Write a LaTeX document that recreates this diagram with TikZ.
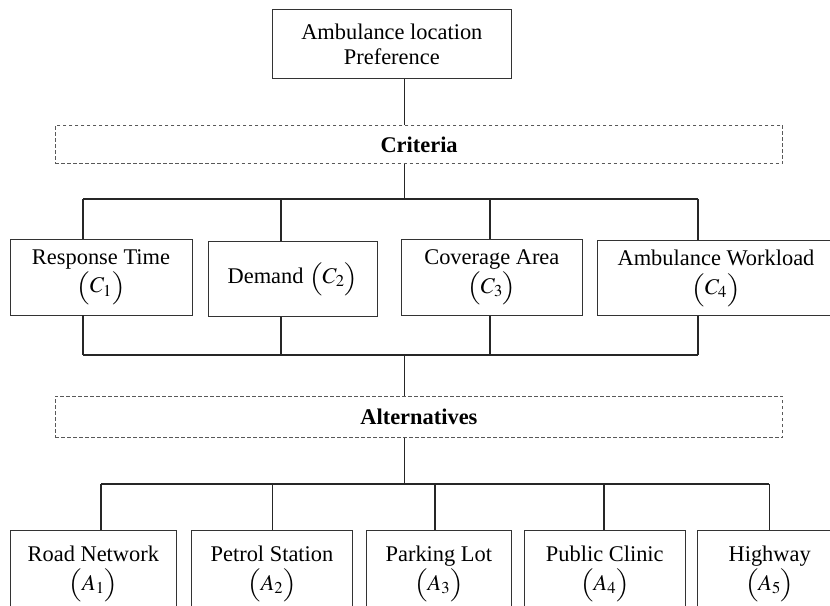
\documentclass[tikz,border=0pt]{standalone}
\usepackage{amsmath}
\usepackage{mathptmx}
\usepackage{graphicx}
\usepackage[no-math]{fontspec}
\setmainfont{Liberation Serif}
\newcommand{\lpar}{\scalebox{1}[0.82]{$\Bigl($}}
\newcommand{\rpar}{\scalebox{1}[0.82]{$\Bigr)$}}
\newcommand{\pp}[1]{\lpar$#1$\rpar}
\begin{document}
\begin{tikzpicture}[x=1bp,y=-1bp,
  every node/.style={font=\fontsize{22.5}{29}\selectfont, inner sep=0pt, align=center},
  solidbox/.style={draw=black!80, line width=0.9bp},
  dashbox/.style={draw=black!65, line width=0.8bp, dash pattern=on 3.5bp off 2.5bp},
  link/.style={draw=black!85, line width=1.1bp}]
\useasboundingbox (0,0) rectangle (830,606);
\clip (0,0) rectangle (830,606);

% goal
\node[solidbox, font=\fontsize{22.5}{25}\selectfont, minimum width=238.3bp, minimum height=69.4bp] (goal) at (391.85,44) {Ambulance location\\Preference};
% criteria header
\node[dashbox, minimum width=727.2bp, minimum height=38.4bp] (crit) at (419.1,144.5) {\textbf{Criteria}};
% criteria
\node[solidbox, minimum width=182bp, minimum height=76bp] (c1) at (101,277) {Response Time\\\pp{C_1}};
\node[solidbox, minimum width=169.7bp, minimum height=75.7bp] (c2) at (292.85,278.85) {Demand \pp{C_2}};
\node[solidbox, minimum width=181.7bp, minimum height=76.7bp] (c3) at (491.85,277.35) {Coverage Area\\\pp{C_3}};
\node[solidbox, minimum width=236.6bp, minimum height=75bp] (c4) at (716,278.2) {Ambulance Workload\\\pp{C_4}};
% alternatives header
\node[dashbox, minimum width=727.7bp, minimum height=41.3bp] (alt) at (418.9,416.65) {\textbf{Alternatives}};
% alternatives
\node[solidbox, minimum width=166.7bp, minimum height=88bp] (a1) at (93.35,574) {Road Network\\\pp{A_1}};
\node[solidbox, minimum width=160.6bp, minimum height=88bp] (a2) at (272,574) {Petrol Station\\\pp{A_2}};
\node[solidbox, minimum width=145.7bp, minimum height=88bp] (a3) at (438.85,574) {Parking Lot\\\pp{A_3}};
\node[solidbox, minimum width=161bp, minimum height=88bp] (a4) at (604.8,574) {Public Clinic\\\pp{A_4}};
\node[solidbox, minimum width=144bp, minimum height=88bp] (a5) at (769.7,574) {Highway\\\pp{A_5}};

% junction coordinates
\coordinate (trunk) at (404.5,0);
\coordinate (k1) at (83,199); \coordinate (k2) at (281,199);
\coordinate (k3) at (490,199); \coordinate (k4) at (698,199);
\coordinate (m1) at (83,355); \coordinate (m2) at (281,355);
\coordinate (m3) at (490,355); \coordinate (m4) at (698,355);
\coordinate (n1) at (101,484); \coordinate (n2) at (272.7,484);
\coordinate (n3) at (435,484); \coordinate (n4) at (604,484);
\coordinate (n5) at (769.3,484);

\draw[link] (goal.south -| trunk) -- (crit.north -| trunk);
\draw[link] (crit.south -| trunk) -- (k1 -| trunk);
\draw[link] (k1) -- (k4);
\foreach \i in {1,...,4} {\draw[link] (k\i) -- (k\i |- c\i.north);}
\foreach \i in {1,...,4} {\draw[link] (c\i.south -| m\i) -- (m\i);}
\draw[link] (m1) -- (m4);
\draw[link] (m1 -| trunk) -- (alt.north -| trunk);
\draw[link] (alt.south -| trunk) -- (n1 -| trunk);
\draw[link] (n1) -- (n5);
\foreach \i in {1,...,5} {\draw[link] (n\i) -- (n\i |- a\i.north);}
\end{tikzpicture}
\end{document}
